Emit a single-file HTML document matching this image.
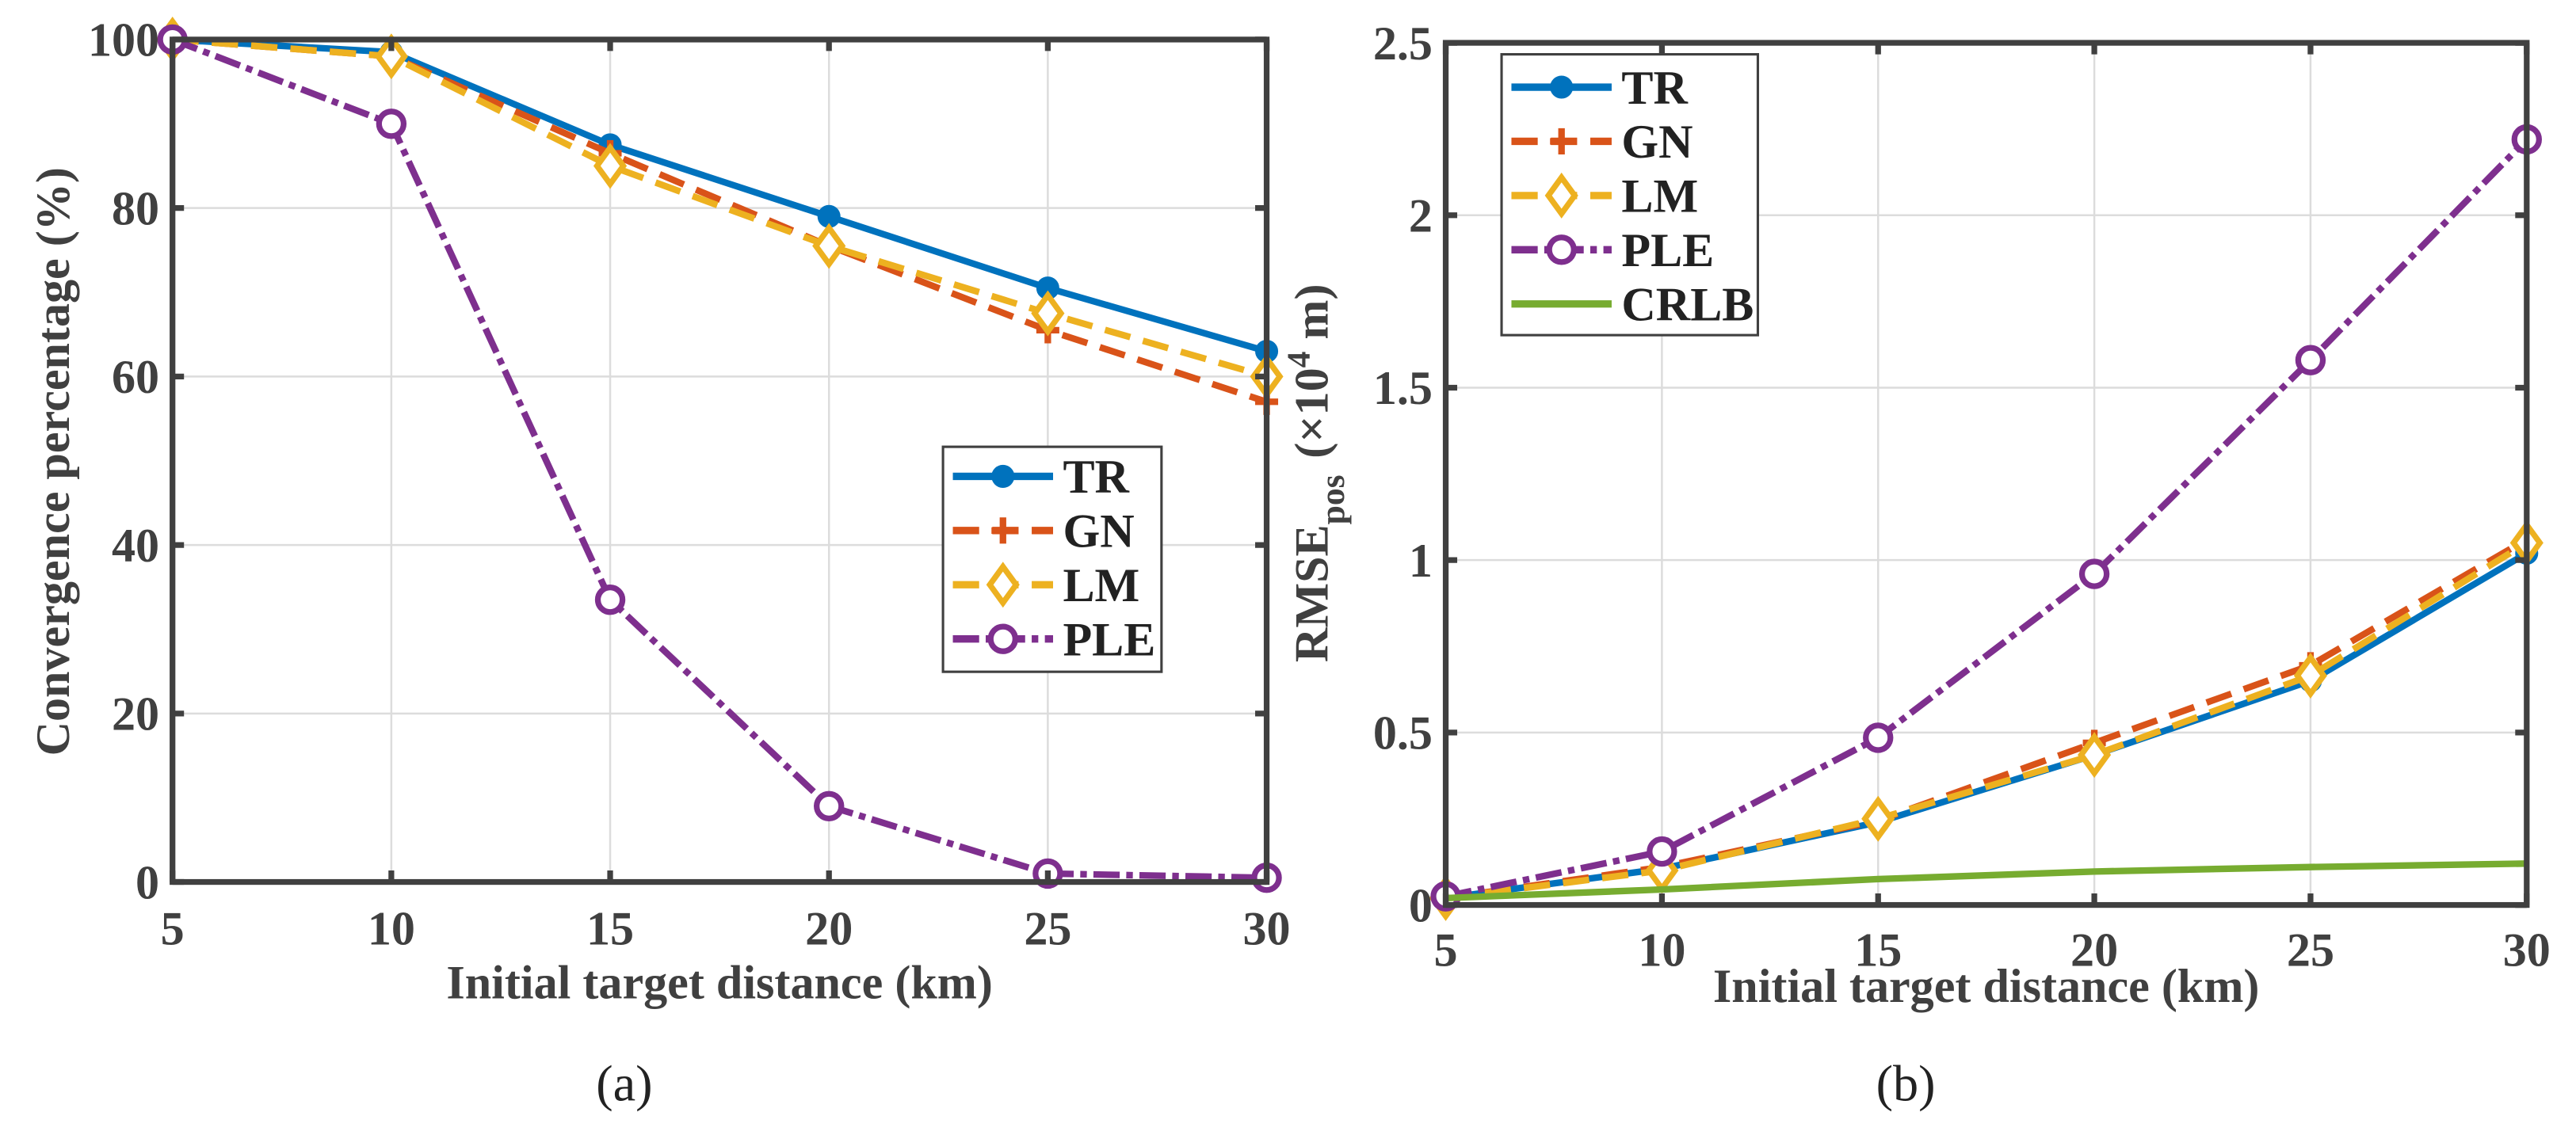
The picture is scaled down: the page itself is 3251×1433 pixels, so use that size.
<!DOCTYPE html>
<html><head><meta charset="utf-8"><style>
html,body{margin:0;padding:0;background:#fff;}
svg{display:block;font-family:"Liberation Serif",serif;}
</style></head><body>
<svg id="fig" width="3251" height="1433" viewBox="0 0 1568 691" xmlns="http://www.w3.org/2000/svg"></svg>
<script>
const xCats=[5,10,15,20,25,30];
const aTR=[100,98.5,87.5,79,70.5,63];
const aGN=[100,98,86.5,75.5,65.5,57];
const aLM=[100,98,85,75.5,67.5,60];
const aPLE=[100,90,33.5,9,1,0.5];
const aYTicks=[0,20,40,60,80,100];
const bTR=[0.02,0.105,0.24,0.435,0.65,1.02];
const bGN=[0.02,0.11,0.245,0.47,0.695,1.06];
const bLM=[0.02,0.1,0.25,0.435,0.665,1.05];
const bPLE=[0.025,0.155,0.485,0.96,1.58,2.22];
const bCRLB=[0.02,0.045,0.075,0.097,0.11,0.12];
const bYTicks=[0,0.5,1,1.5,2,2.5];
const bYLabels=["0","0.5","1","1.5","2","2.5"];

const NS="http://www.w3.org/2000/svg";
const svg=document.getElementById('fig');
function mk(tag,attrs,parent,text){const e=document.createElementNS(NS,tag);for(const k in attrs)e.setAttribute(k,attrs[k]);if(text!==undefined)e.textContent=text;(parent||svg).appendChild(e);return e;}
const AX='#404040';
const C={TR:'#0072BD',GN:'#D95319',LM:'#EDB120',PLE:'#7E2F8E',CRLB:'#77AC30'};
const DASH={TR:'',GN:'16 8',LM:'16 8',PLE:'16 4 4 4',CRLB:''};

function marker(g,type,x,y,col){
  let m;
  if(type==='TR'){m=mk('circle',{cx:x,cy:y,r:6.5,fill:col,stroke:col},g);}
  else if(type==='GN'){m=mk('path',{d:`M${x-7},${y}H${x+7}M${x},${y-8}V${y+8}`,stroke:col,'stroke-width':4,fill:'none'},g);}
  else if(type==='LM'){m=mk('path',{d:`M${x},${y-11}L${x+8},${y}L${x},${y+11}L${x-8},${y}Z`,stroke:col,'stroke-width':3.5,fill:'#fff'},g);}
  else if(type==='PLE'){m=mk('circle',{cx:x,cy:y,r:7.5,fill:'#fff',stroke:col,'stroke-width':3.5},g);}
  if(m){
  }
}

function panel(cfg){
  const g=mk('g',{});
  
  
  const sx=v=>cfg.x0+(v-5)/25*(cfg.x1-cfg.x0);
  const sy=v=>cfg.y0-(v-cfg.ymin)/(cfg.ymax-cfg.ymin)*(cfg.y0-cfg.y1);
  xCats.forEach(v=>{const l=mk('line',{x1:sx(v),x2:sx(v),y1:cfg.y1,y2:cfg.y0,stroke:'#dcdcdc','stroke-width':1.2},g);
    
    });
  cfg.yt.forEach(v=>{const l=mk('line',{x1:cfg.x0,x2:cfg.x1,y1:sy(v),y2:sy(v),stroke:'#dcdcdc','stroke-width':1.2},g);
    
    });
  cfg.series.forEach(s=>{
    const sg=mk('g',{},g);
    
    
    const pts=s.v.map((v,i)=>sx(xCats[i])+','+sy(v)).join(' ');
    const pl=mk('polyline',{points:pts,fill:'none',stroke:C[s.k],'stroke-width':4,'stroke-dasharray':DASH[s.k]},sg);
    
    
    s.v.forEach((v,i)=>marker(sg,s.k,sx(xCats[i]),sy(v),C[s.k]));
  });
  const box=mk('rect',{x:cfg.x0,y:cfg.y1,width:cfg.x1-cfg.x0,height:cfg.y0-cfg.y1,fill:'none',stroke:AX,'stroke-width':3.5},g);
  
  
  xCats.forEach(v=>{
    mk('path',{d:`M${sx(v)},${cfg.y0}v-7M${sx(v)},${cfg.y1}v7`,stroke:AX,'stroke-width':3.5},g);
    const t=mk('text',{x:sx(v),y:cfg.xty,'text-anchor':'middle','font-size':29,'font-weight':'bold',fill:AX},g,String(v));
    
    
  });
  cfg.yt.forEach((v,i)=>{
    mk('path',{d:`M${cfg.x0},${sy(v)}h7M${cfg.x1},${sy(v)}h-7`,stroke:AX,'stroke-width':3.5},g);
    const t=mk('text',{x:cfg.x0-8,y:sy(v)+10,'text-anchor':'end','font-size':29,'font-weight':'bold',fill:AX},g,cfg.yl[i]);
    
    
  });
  const xl=mk('text',{x:(cfg.x0+cfg.x1)/2,y:cfg.xly,'text-anchor':'middle','font-size':29,'font-weight':'bold',fill:AX},g,'Initial target distance (km)');
  
  
  const cap=mk('text',{x:cfg.capx,y:670,'text-anchor':'middle','font-size':31,fill:'#222'},g,cfg.cap);
  
  
  const lg=mk('g',{},g);
  
  
  const L=cfg.leg;
  mk('rect',{x:L.x,y:L.y,width:L.w,height:L.h,fill:'#fff',stroke:AX,'stroke-width':1.5},lg);
  cfg.series.forEach((s,i)=>{
    const e=mk('g',{},lg);
    
    
    const y=L.y+L.r0+i*L.dy;
    mk('line',{x1:L.x+6,x2:L.x+6+L.ll,y1:y,y2:y,stroke:C[s.k],'stroke-width':4.5,'stroke-dasharray':DASH[s.k]},e);
    marker(e,s.k,L.x+6+L.ll/2,y,C[s.k]);
    mk('text',{x:L.x+12+L.ll,y:y+10,'font-size':29,'font-weight':'bold',fill:'#222'},e,s.k);
  });
}

panel({name:'panel-a-convergence',x0:105,x1:771,y0:537,y1:24,ymin:0,ymax:100,yt:aYTicks,yl:aYTicks.map(String),
  series:[{k:'TR',v:aTR},{k:'GN',v:aGN},{k:'LM',v:aLM},{k:'PLE',v:aPLE}],
  xty:575,xly:608,capx:380,cap:'(a)',leg:{x:574,y:272,w:133,h:137,r0:18,dy:33,ll:61}});
const ya=mk('text',{x:0,y:0,transform:'translate(42,281) rotate(-90)','text-anchor':'middle','font-size':29,'font-weight':'bold',fill:AX},svg,'Convergence percentage (%)');



panel({name:'panel-b-rmse',x0:880,x1:1538,y0:551,y1:26,ymin:0,ymax:2.5,yt:bYTicks,yl:bYLabels,
  series:[{k:'TR',v:bTR},{k:'GN',v:bGN},{k:'LM',v:bLM},{k:'PLE',v:bPLE},{k:'CRLB',v:bCRLB}],
  xty:588,xly:610,capx:1160,cap:'(b)',leg:{x:914,y:33,w:156,h:171,r0:20,dy:33,ll:61}});
const yb=mk('text',{x:0,y:0,transform:'translate(808,288) rotate(-90)','text-anchor':'middle','font-size':29,'font-weight':'bold',fill:AX},svg);


mk('tspan',{},yb,'RMSE');
mk('tspan',{dy:10,'font-size':21},yb,'pos');
mk('tspan',{dy:-10,dx:10},yb,'(×10');
mk('tspan',{dy:-11,'font-size':20},yb,'4');
mk('tspan',{dy:11},yb,' m)');
</script>
</body></html>
